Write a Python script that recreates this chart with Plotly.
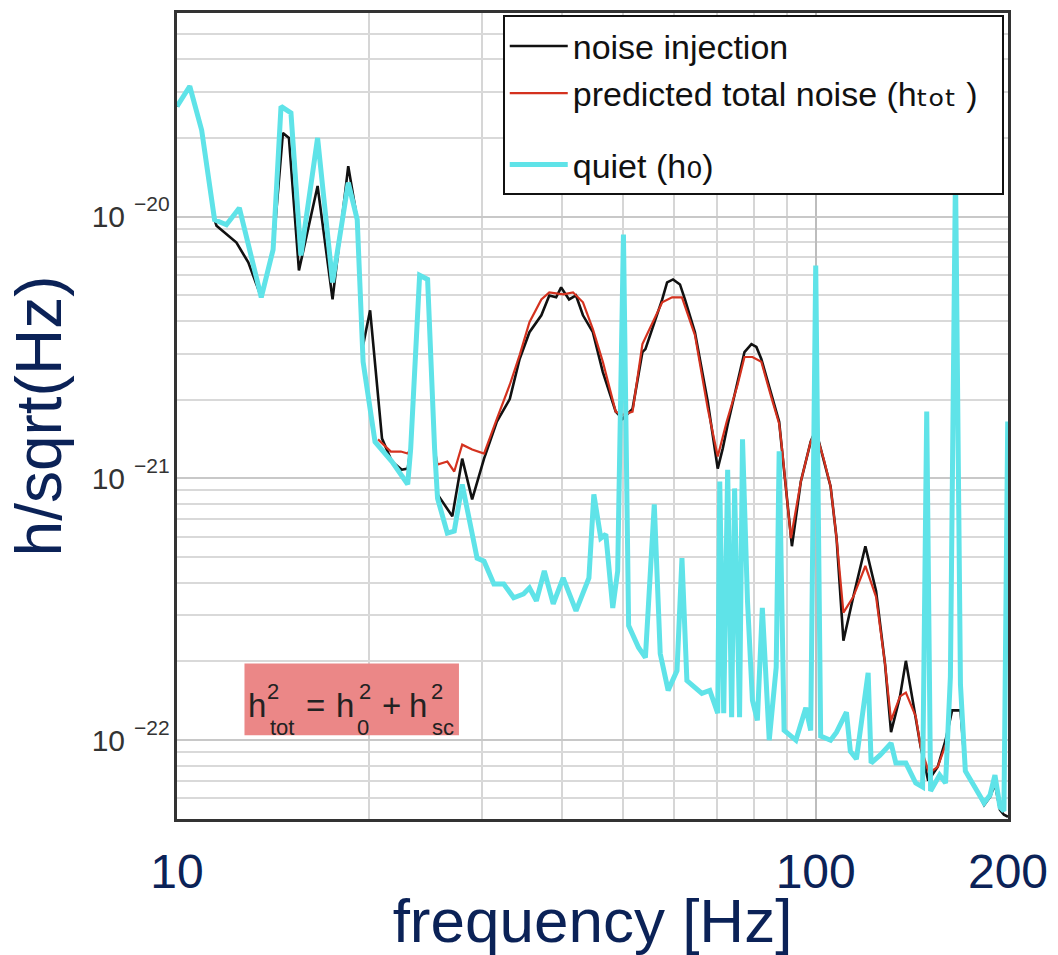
import math
import plotly.graph_objects as go

# ---------------- data ----------------
freq_quiet = [10.0, 10.47, 10.93, 11.45, 11.95, 12.52, 13.55, 14.14, 14.55, 15.08,
              15.63, 16.60, 17.52, 18.54, 19.15, 19.56, 20.42, 21.70, 22.97, 23.22,
              23.98, 24.68, 25.31, 25.58, 26.50, 27.17, 27.96, 28.77, 29.50, 30.25,
              31.34, 32.48, 33.66, 34.88, 35.63, 36.53, 37.59, 38.82, 40.23, 42.14,
              44.15, 44.94, 46.08, 46.92, 48.11, 48.97, 50.0, 50.94, 52.79, 54.12,
              55.09, 55.88, 57.09, 58.74, 60.65, 61.74, 62.85, 64.7, 66.33, 68.26,
              70.24, 70.75, 71.77, 72.8, 73.85, 74.64, 75.99, 76.8, 78.19, 79.6,
              81.03, 82.49, 84.57, 86.72, 87.65, 89.23, 93.1, 96.5, 98.2, 100.0,
              101.8, 105.5, 107.8, 111.7, 113.3, 115.8, 120.8, 122.1, 126.1, 131.2,
              133.5, 138.4, 143.4, 147.0, 149.2, 151.3, 156.3, 159.7, 162.5, 165.5,
              168.5, 171.5, 177.7, 183.5, 187.5, 190.8, 194.3, 197.1, 199.8]
h_quiet = [2.64e-20, 3.15e-20, 2.14e-20, 9.74e-21, 9.32e-21, 1.08e-20, 4.92e-21, 7.49e-21, 2.64e-20, 2.49e-20,
           7.11e-21, 2.0e-20, 5.61e-21, 1.35e-20, 9.74e-21, 2.79e-21, 1.38e-21, 1.16e-21, 9.5e-22, 1.30e-21,
           5.97e-21, 5.76e-21, 1.30e-21, 8.4e-22, 6.18e-22, 6.29e-22, 9.49e-22, 6.86e-22, 4.96e-22, 4.83e-22,
           3.95e-22, 3.95e-22, 3.50e-22, 3.62e-22, 3.82e-22, 3.41e-22, 4.43e-22, 3.32e-22, 4.17e-22, 3.12e-22,
           4.17e-22, 8.7e-22, 5.91e-22, 6.12e-22, 3.20e-22, 4.43e-22, 8.54e-21, 2.74e-22, 2.26e-22, 2.07e-22,
           4.55e-22, 7.96e-22, 2.14e-22, 1.55e-22, 1.845e-22, 4.96e-22, 1.69e-22, 1.59e-22, 1.51e-22, 1.55e-22,
           1.267e-22, 9.74e-22, 1.267e-22, 1.08e-21, 1.223e-22, 9.16e-22, 1.223e-22, 1.41e-21, 3.41e-22, 1.42e-22,
           1.19e-22, 3.20e-22, 1.0e-22, 1.9e-22, 1.27e-21, 1.09e-22, 1.0e-22, 1.33e-22, 1.09e-22, 6.51e-21,
           1.036e-22, 1.0e-22, 1.073e-22, 1.28e-22, 9.08e-23, 8.47e-23, 1.81e-22, 8.18e-23, 8.77e-23, 9.74e-23,
           8.18e-23, 8.18e-23, 6.86e-23, 6.63e-23, 1.80e-21, 6.40e-23, 7.36e-23, 6.86e-23, 1.75e-22, 1.5e-20,
           1.63e-22, 7.62e-23, 6.63e-23, 5.76e-23, 6.18e-23, 7.36e-23, 5.56e-23, 5.37e-23, 1.65e-21]

freq_injection = [10.0, 10.47, 10.93, 11.45, 11.53, 12.39, 12.93, 13.55, 14.14, 14.65,
                  14.97, 15.52, 16.60, 17.52, 18.54, 19.15, 19.56, 20.06, 20.94, 21.70,
                  22.49, 22.97, 23.22, 23.98, 24.68, 25.31, 25.58, 26.98, 27.96, 28.98,
                  30.25, 31.68, 33.19, 34.39, 35.63, 37.19, 38.27, 39.23, 39.94, 41.10,
                  42.14, 43.21, 44.78, 46.42, 48.62, 49.86, 51.67, 53.54, 54.12, 57.50,
                  58.52, 59.79, 61.3, 62.41, 64.7, 67.77, 70.24, 71.51, 72.8, 75.45,
                  77.35, 79.31, 80.74, 82.19, 85.18, 87.65, 88.6, 91.78, 94.78, 98.2,
                  100.0, 102.9, 105.5, 107.8, 110.5, 114.5, 119.6, 124.3, 128.4, 131.2,
                  135.5, 138.4, 143.4, 146.0, 150.0, 155.2, 159.7, 163.5, 168.5, 171.5,
                  177.7, 183.5, 187.5, 190.8, 194.3, 197.1, 200.0]
h_injection = [2.64e-20, 3.15e-20, 2.14e-20, 9.74e-21, 9.24e-21, 7.96e-21, 6.69e-21, 4.92e-21, 7.49e-21, 2.09e-20,
               2.0e-20, 6.23e-21, 1.31e-20, 4.83e-21, 1.56e-20, 9.74e-21, 3.23e-21, 4.39e-21, 1.42e-21, 1.16e-21,
               1.08e-21, 1.09e-21, 1.30e-21, 5.97e-21, 5.76e-21, 1.30e-21, 8.69e-22, 7.17e-22, 1.19e-21, 8.32e-22,
               1.19e-21, 1.65e-21, 2.01e-21, 2.86e-21, 3.62e-21, 4.20e-21, 5.0e-21, 4.92e-21, 5.37e-21, 4.83e-21,
               5.0e-21, 4.20e-21, 3.62e-21, 2.55e-21, 1.80e-21, 1.69e-21, 1.845e-21, 3.04e-21, 3.12e-21, 4.83e-21,
               5.61e-21, 5.76e-21, 5.51e-21, 4.83e-21, 3.62e-21, 1.96e-21, 1.09e-21, 1.30e-21, 1.605e-21, 2.34e-21,
               3.04e-21, 3.26e-21, 3.18e-21, 2.86e-21, 2.09e-21, 1.647e-21, 1.267e-21, 5.51e-22, 9.74e-22, 1.383e-21,
               1.536e-21, 1.19e-21, 9.32e-22, 5.91e-22, 2.40e-22, 3.53e-22, 5.51e-22, 3.72e-22, 1.95e-22, 1.073e-22,
               1.47e-22, 2.01e-22, 1.234e-22, 9.41e-23, 7.0e-23, 7.9e-23, 1.0e-22, 1.3e-22, 1.3e-22, 7.62e-23,
               6.63e-23, 5.66e-23, 6.07e-23, 6.8e-23, 5.42e-23, 5.19e-23, 5.1e-23]

freq_predicted = [20.64, 21.62, 22.41, 22.97, 23.22, 23.98, 24.68, 25.31, 25.58, 26.50,
                  27.17, 27.96, 28.98, 30.25, 31.68, 33.19, 34.39, 35.63, 37.19, 38.27,
                  40.23, 41.69, 43.21, 44.78, 46.42, 48.62, 49.86, 51.67, 53.54, 57.50,
                  59.58, 61.74, 64.7, 67.77, 70.24, 72.54, 75.45, 77.35, 79.6, 82.19,
                  85.18, 87.65, 88.6, 91.44, 94.78, 98.2, 100.0, 102.9, 105.5, 107.8,
                  110.5, 114.5, 119.6, 124.3, 128.4, 131.2, 135.5, 138.4, 143.4, 146.0,
                  150.5, 155.2, 159.7]
h_predicted = [1.41e-21, 1.267e-21, 1.267e-21, 1.245e-21, 1.30e-21, 5.97e-21, 5.76e-21, 1.30e-21, 1.13e-21, 1.16e-21,
               1.063e-21, 1.346e-21, 1.289e-21, 1.245e-21, 1.69e-21, 2.28e-21, 2.96e-21, 3.95e-21, 4.83e-21, 5.14e-21,
               5.05e-21, 5.14e-21, 4.71e-21, 3.72e-21, 2.79e-21, 1.80e-21, 1.75e-21, 1.80e-21, 3.26e-21, 4.71e-21,
               4.92e-21, 4.92e-21, 3.53e-21, 1.845e-21, 1.213e-21, 1.647e-21, 2.28e-21, 2.91e-21, 2.91e-21, 2.79e-21,
               2.05e-21, 1.62e-21, 1.289e-21, 5.91e-22, 9.74e-22, 1.383e-21, 1.51e-21, 1.19e-21, 9.32e-22, 5.91e-22,
               3.07e-22, 3.53e-22, 4.63e-22, 3.53e-22, 1.95e-22, 1.19e-22, 1.47e-22, 1.52e-22, 1.234e-22, 9.41e-23,
               7.5e-23, 7.9e-23, 9.6e-23]

SUBF = "<span style='font-family:DejaVu Sans;font-size:40px'>"
series_names = ["noise injection",
                "predicted total noise (h" + SUBF + "\u209c\u2092\u209c</span> )\u00a0\u00a0",
                "quiet (h" + SUBF + "\u2080</span>)"]
series_groups = ["a", "a", "b"]
series_colors = ["#111111", "#d4321f", "#5fe3e8"]
series_widths = [2.6, 2.2, 5]

x_tick_vals = [10, 100, 200]
x_tick_text = ["10", "100", "200"]
x_minor_vals = [20, 30, 40, 50, 60, 70, 80, 90]
y_tick_vals = [1e-22, 1e-21, 1e-20]
y_tick_base = ["10", "10", "10"]
y_tick_exponents = [-22, -21, -20]
y_minor_vals = [m * 10.0 ** e for e in (-23, -22, -21, -20) for m in range(2, 10)]
y_minor_vals = [v for v in y_minor_vals if 4.9e-23 < v < 6.1e-20]

NAVY = "#0b2257"
FONT = "Liberation Sans"

fig = go.Figure()
for fx, hy, name, grp, col, w in zip([freq_injection, freq_predicted, freq_quiet],
                                     [h_injection, h_predicted, h_quiet],
                                     series_names, series_groups, series_colors, series_widths):
    fig.add_trace(go.Scatter(x=fx, y=hy, mode="lines", name=name, legendgroup=grp,
                             line=dict(color=col, width=w)))

fig.update_layout(
    width=1058, height=955,
    margin=dict(l=177, r=44, t=10, b=136),
    paper_bgcolor="white", plot_bgcolor="white",
    font=dict(family=FONT, color="#222"),
    showlegend=True,
    legend=dict(x=0.392, y=0.997, xanchor="left", yanchor="top",
                bgcolor="white", bordercolor="#111", borderwidth=2,
                font=dict(size=34, family=FONT, color="#111"),
                itemwidth=58, traceorder="grouped", tracegroupgap=24, itemclick=False),
)

fig.update_xaxes(
    type="log", range=[1, 2.30103],
    tickvals=x_tick_vals, ticktext=x_tick_text,
    tickfont=dict(size=48, color=NAVY, family=FONT),
    ticks="", ticklabelstandoff=8,
    showgrid=True, gridcolor="#bdbdbd", gridwidth=1.5,
    minor=dict(tickvals=x_minor_vals, showgrid=True, gridcolor="#d6d6d6", gridwidth=1.5, ticks=""),
    showline=True, mirror=True, linecolor="#333", linewidth=3,
    title=dict(text="frequency [Hz]", font=dict(size=62, color=NAVY, family=FONT), standoff=4),
)
fig.update_yaxes(
    type="log", range=[-22.30103, -19.22185],
    tickvals=y_tick_vals, ticktext=y_tick_base,
    tickfont=dict(size=30, color="#333", family=FONT),
    ticks="", ticklabelstandoff=43,
    showgrid=True, gridcolor="#c8c8c8", gridwidth=1.5,
    minor=dict(tickvals=y_minor_vals, showgrid=True, gridcolor="#d9d9d9", gridwidth=1.5, ticks=""),
    showline=True, mirror=True, linecolor="#333", linewidth=3,
    title=dict(text="h/sqrt(Hz)", font=dict(size=64, color=NAVY, family=FONT), standoff=10),
)

# exponents of the y tick labels (10^-22 ...), placed as raised text next to each "10"
for val, ex in zip(y_tick_vals, y_tick_exponents):
    fig.add_annotation(xref="paper", yref="y", x=0, y=math.log10(val), text="\u2212" + str(-ex),
                       showarrow=False, xanchor="right", yanchor="middle", xshift=-5, yshift=13,
                       font=dict(size=21, color="#333", family=FONT))

# formula box  h_tot^2 = h_0^2 + h_sc^2
fig.add_shape(type="rect", xref="paper", yref="paper",
              x0=0.0812, x1=0.3393, y0=0.1038, y1=0.1928,
              fillcolor="#eb8787", line=dict(width=0), layer="above")
BX, BY = 0.2103, 0.1483
pieces = [("h", 33, -95, -6), ("2", 22, -79, 8), ("tot", 22, -70, -28), ("=", 33, -36, -6),
          ("h", 33, -7, -6), ("2", 22, 13, 8), ("0", 22, 11, -28), ("+", 33, 40, -6),
          ("h", 33, 66, -6), ("2", 22, 85, 8), ("sc", 22, 91, -28)]
for txt, sz, dx, dy in pieces:
    fig.add_annotation(xref="paper", yref="paper", x=BX, y=BY, text=txt, showarrow=False,
                       xanchor="center", yanchor="middle", xshift=dx, yshift=dy,
                       font=dict(size=sz, color="#222", family=FONT))

fig.write_html("out.html")
